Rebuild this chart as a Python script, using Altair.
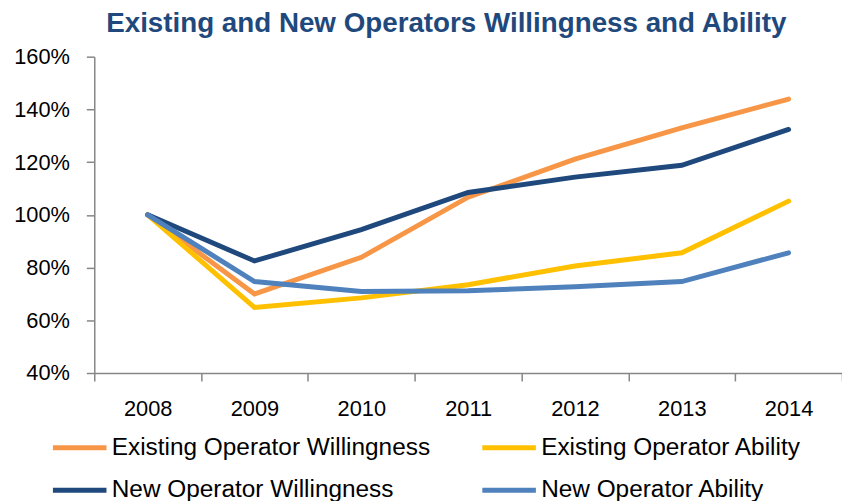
import altair as alt
import pandas as pd

years = ["2008", "2009", "2010", "2011", "2012", "2013", "2014"]
series_names = [
    "Existing Operator Willingness",
    "Existing Operator Ability",
    "New Operator Willingness",
    "New Operator Ability",
]
existing_willingness = [1.000, 0.700, 0.839, 1.067, 1.211, 1.330, 1.439]
existing_ability = [1.000, 0.649, 0.685, 0.735, 0.806, 0.856, 1.052]
new_willingness = [1.000, 0.825, 0.944, 1.085, 1.143, 1.188, 1.324]
new_ability = [1.000, 0.747, 0.709, 0.712, 0.727, 0.747, 0.856]
series_colors = ["#F79646", "#FFC000", "#1F497D", "#4F81BD"]
y_ticks = [0.4, 0.6, 0.8, 1.0, 1.2, 1.4, 1.6]

rows = []
for name, vals in zip(series_names, [existing_willingness, existing_ability, new_willingness, new_ability]):
    for i, (yr, v) in enumerate(zip(years, vals)):
        rows.append({"Year": yr, "Value": v, "Series": name, "idx": i})
df = pd.DataFrame(rows)

FONT = "Liberation Sans"

chart = (
    alt.Chart(df)
    .mark_line(strokeWidth=5, strokeCap="round")
    .encode(
        x=alt.X(
            "Year:N",
            sort=years,
            bandPosition=0.5,
            scale=alt.Scale(type="band", paddingInner=0, paddingOuter=0),
            axis=alt.Axis(
                title=None,
                labelAngle=0,
                tickBand="extent",
                domainColor="#868686",
                tickColor="#868686",
                domainWidth=1.5,
                tickWidth=1.5,
                tickSize=8,
                labelPadding=18,
                labelFontSize=22,
                labelColor="#000000",
                labelFont=FONT,
            ),
        ),
        y=alt.Y(
            "Value:Q",
            scale=alt.Scale(domain=[0.4, 1.6], nice=False, zero=False),
            axis=alt.Axis(
                title=None,
                values=y_ticks,
                format=".0%",
                grid=False,
                domainColor="#868686",
                tickColor="#868686",
                domainWidth=1.5,
                tickWidth=1.5,
                tickSize=8,
                labelPadding=17,
                labelFontSize=22,
                labelColor="#000000",
                labelFont=FONT,
            ),
        ),
        color=alt.Color(
            "Series:N",
            sort=series_names,
            scale=alt.Scale(domain=series_names, range=series_colors),
            legend=alt.Legend(
                title=None,
                orient="none",
                direction="horizontal",
                legendX=-45,
                legendY=382,
                columns=2,
                columnPadding=42,
                rowPadding=18,
                symbolType="M-1,0H5",
                symbolSize=324,
                symbolStrokeWidth=5,
                labelOffset=38,
                labelFontSize=24.6,
                labelFont=FONT,
                labelColor="#000000",
                labelLimit=600,
            ),
        ),
        order="idx:Q",
    )
    .properties(
        width=754,
        height=319,
        autosize=alt.AutoSizeParams(type="none"),
        padding={"left": 87, "top": 47, "right": 0, "bottom": 130},
        title=alt.TitleParams(
            "Existing and New Operators Willingness and Ability",
            fontSize=28,
            fontWeight="bold",
            color="#1F497D",
            font=FONT,
            anchor="middle",
            frame="group",
            dx=-22,
            dy=-4,
        ),
    )
    .configure_view(stroke=None)
)

chart.save("out.html", embed_options={"renderer": "svg", "actions": False})
